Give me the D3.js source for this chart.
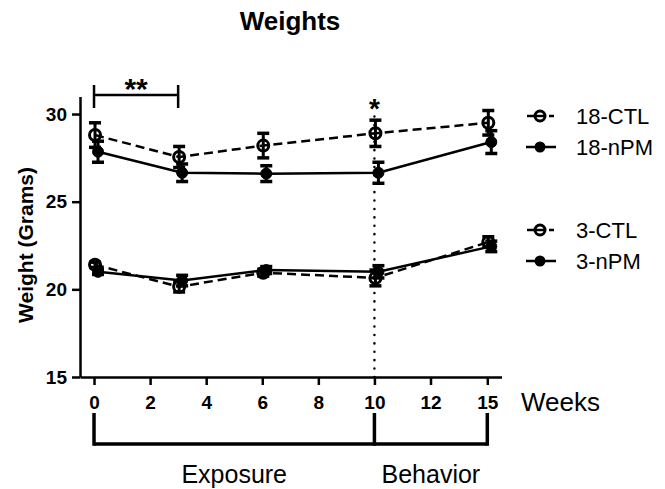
<!DOCTYPE html>
<html>
<head>
<meta charset="utf-8">
<script src="https://cdn.jsdelivr.net/npm/d3@7"></script>
<style>
    body { margin: 0; background: #fff; }
    svg { font-family: "Liberation Sans", Arial, sans-serif; }
</style>
</head>
<body>
<svg id="chart" width="665" height="489"></svg>
<script>
// Data
const weeks = [0, 3, 6, 10, 15];
const xTicks = [0, 2, 4, 6, 8, 10, 12, 15];
const yTicks = [15, 20, 25, 30];

const ctl18 = [28.8, 27.55, 28.2, 28.9, 29.5];
const ctl18Sem = [0.7, 0.6, 0.7, 0.75, 0.7];
const npm18 = [27.85, 26.65, 26.6, 26.65, 28.4];
const npm18Sem = [0.6, 0.5, 0.45, 0.6, 0.65];
const ctl3 = [21.4, 20.15, 20.95, 20.65, 22.7];
const ctl3Sem = [0.15, 0.3, 0.2, 0.45, 0.3];
const npm3 = [21.0, 20.5, 21.1, 21.0, 22.45];
const npm3Sem = [0.15, 0.3, 0.2, 0.35, 0.3];

const seriesNames = ['18-CTL', '18-nPM', '3-CTL', '3-nPM'];
const periods = [
    { label: 'Exposure', from: 0, to: 10 },
    { label: 'Behavior', from: 10, to: 15 }
];

const series = [
    { name: seriesNames[0], values: ctl18, sem: ctl18Sem, ctl: true },
    { name: seriesNames[1], values: npm18, sem: npm18Sem, ctl: false },
    { name: seriesNames[2], values: ctl3, sem: ctl3Sem, ctl: true },
    { name: seriesNames[3], values: npm3, sem: npm3Sem, ctl: false }
];

const svg = d3.select('#chart');

// Scales - the week axis is squeezed after 12 (12 -> 15 takes one tick step)
const x = d3.scaleLinear().domain([-0.5, 12, 15.75]).range([80, 430.5, 501.5]);
const y = d3.scaleLinear().domain([15, 31]).range([377, 96.5]);
const dodge = 4; // nPM markers sit slightly to the right

// Title
svg.append('text')
    .attr('x', 290).attr('y', 30)
    .attr('text-anchor', 'middle')
    .attr('font-size', 26).attr('font-weight', 'bold')
    .text('Weights');

// Axes
const xAxis = svg.append('g')
    .attr('transform', 'translate(0,' + y(15) + ')')
    .call(d3.axisBottom(x).tickValues(xTicks).tickSize(8).tickPadding(11).tickSizeOuter(0));
const yAxis = svg.append('g')
    .attr('transform', 'translate(' + x.range()[0] + ',0)')
    .call(d3.axisLeft(y).tickValues(yTicks).tickSize(8).tickPadding(5).tickSizeOuter(0));

[xAxis, yAxis].forEach((a) => {
    a.select('.domain').attr('stroke', '#000').attr('stroke-width', 2.5);
    a.selectAll('.tick line').attr('stroke', '#000').attr('stroke-width', 2.5);
    a.selectAll('.tick text')
        .attr('fill', '#000')
        .attr('font-size', 19)
        .attr('font-weight', 'bold')
        .attr('font-family', '"Liberation Sans", Arial, sans-serif');
});

svg.append('text')
    .attr('x', 521).attr('y', 411)
    .attr('font-size', 26)
    .text('Weeks');

svg.append('text')
    .attr('transform', 'translate(33,245) rotate(-90)')
    .attr('text-anchor', 'middle')
    .attr('font-size', 21).attr('font-weight', 'bold')
    .text('Weight (Grams)');

// Dotted line at week 10
svg.append('line')
    .attr('x1', x(10)).attr('x2', x(10))
    .attr('y1', y(15)).attr('y2', 112)
    .attr('stroke', '#000')
    .attr('stroke-width', 2.5)
    .attr('stroke-linecap', 'round')
    .attr('stroke-dasharray', '0.1,8.3');

// Lines
const line = d3.line()
    .x((d, i) => x(weeks[i]))
    .y((d) => y(d));

series.forEach((s) => {
    let off = s.ctl ? 1 : dodge;
    svg.append('path')
        .datum(s.values)
        .attr('fill', 'none')
        .attr('stroke', '#000')
        .attr('stroke-width', 2.5)
        .attr('stroke-dasharray', s.ctl ? '9,5' : null)
        .attr('transform', 'translate(' + off + ',0)')
        .attr('d', line);
});

// Error bars + markers
series.forEach((s) => {
    let off = s.ctl ? 1 : dodge,
        g = svg.append('g').attr('transform', 'translate(' + off + ',0)');

    let bars = g.selectAll('.err').data(s.values).enter().append('g');
    bars.append('line')
        .attr('x1', (d, i) => x(weeks[i])).attr('x2', (d, i) => x(weeks[i]))
        .attr('y1', (d, i) => y(d - s.sem[i])).attr('y2', (d, i) => y(d + s.sem[i]))
        .attr('stroke', '#000').attr('stroke-width', 3);
    [-1, 1].forEach((sign) => {
        bars.append('line')
            .attr('x1', (d, i) => x(weeks[i]) - 6).attr('x2', (d, i) => x(weeks[i]) + 6)
            .attr('y1', (d, i) => y(d + sign * s.sem[i])).attr('y2', (d, i) => y(d + sign * s.sem[i]))
            .attr('stroke', '#000').attr('stroke-width', 3.5);
    });

    g.selectAll('circle').data(s.values).enter().append('circle')
        .attr('cx', (d, i) => x(weeks[i]))
        .attr('cy', (d) => y(d))
        .attr('r', s.ctl ? 5.5 : 5.5)
        .attr('fill', s.ctl ? 'none' : '#000')
        .attr('stroke', '#000')
        .attr('stroke-width', s.ctl ? 3 : 1);
});

// Significance marks
svg.append('path')
    .attr('d', 'M' + x(0) + ',85V108M' + x(0) + ',95H' + x(3) + 'M' + x(3) + ',85V108')
    .attr('fill', 'none').attr('stroke', '#000').attr('stroke-width', 2.5);
svg.append('text')
    .attr('x', (x(0) + x(3)) / 2).attr('y', 99)
    .attr('text-anchor', 'middle')
    .attr('font-size', 30).attr('font-weight', 'bold')
    .text('**');
svg.append('text')
    .attr('x', x(10)).attr('y', 118)
    .attr('text-anchor', 'middle')
    .attr('font-size', 28).attr('font-weight', 'bold')
    .text('*');

// Legend
const legendY = [116, 147, 230, 261];
series.forEach((s, i) => {
    let g = svg.append('g').attr('transform', 'translate(0,' + legendY[i] + ')');
    if (s.ctl) {
        g.append('line').attr('x1', 527).attr('x2', 534).attr('stroke', '#000').attr('stroke-width', 2.5);
        g.append('line').attr('x1', 549).attr('x2', 554).attr('stroke', '#000').attr('stroke-width', 2.5);
        g.append('line').attr('x1', 535).attr('x2', 545).attr('stroke', '#000').attr('stroke-width', 2.5);
        g.append('circle').attr('cx', 540).attr('r', 5).attr('fill', 'none').attr('stroke', '#000').attr('stroke-width', 3);
    } else {
        g.append('line').attr('x1', 526).attr('x2', 556).attr('stroke', '#000').attr('stroke-width', 2.5);
        g.append('circle').attr('cx', 540).attr('r', 5.5).attr('fill', '#000');
    }
    g.append('text')
        .attr('x', 576).attr('y', 8)
        .attr('font-size', 22)
        .text(s.name);
});

// Exposure / behavior brackets
const bracketTop = 413, bracketBottom = 444;
svg.append('line')
    .attr('x1', x(periods[0].from)).attr('x2', x(periods[periods.length - 1].to))
    .attr('y1', bracketBottom).attr('y2', bracketBottom)
    .attr('stroke', '#000').attr('stroke-width', 3.5);
svg.selectAll('.bracket-tick')
    .data([periods[0].from].concat(periods.map((p) => p.to)))
    .enter().append('line')
    .attr('x1', (d) => x(d)).attr('x2', (d) => x(d))
    .attr('y1', bracketTop).attr('y2', bracketBottom + 1.75)
    .attr('stroke', '#000').attr('stroke-width', 3.5);
svg.selectAll('.period-label')
    .data(periods)
    .enter().append('text')
    .attr('x', (p) => (x(p.from) + x(p.to)) / 2)
    .attr('y', 483)
    .attr('text-anchor', 'middle')
    .attr('font-size', 25)
    .text((p) => p.label);
</script>
</body>
</html>
